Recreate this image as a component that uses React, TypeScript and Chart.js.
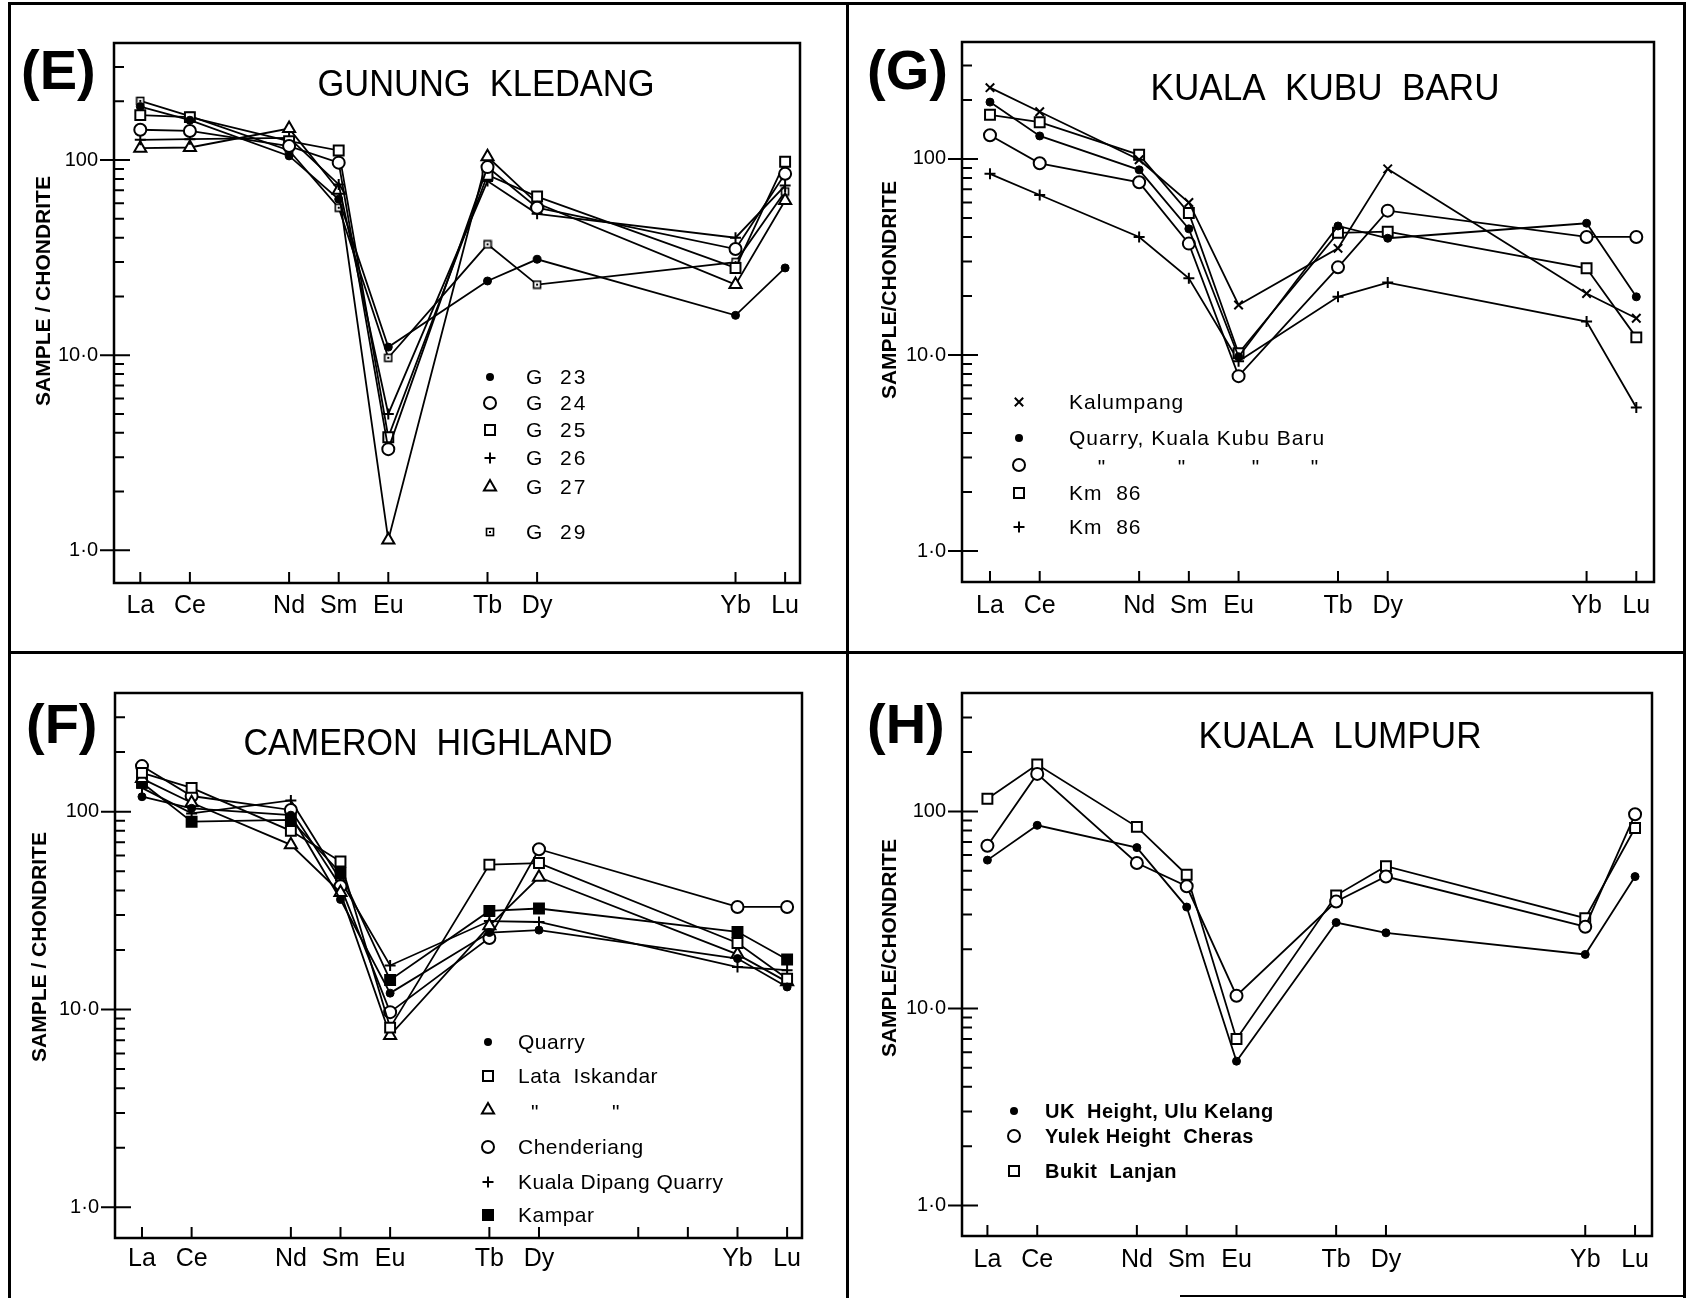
import React, { useEffect, useRef } from 'react';
import { Chart, registerables } from 'chart.js';

Chart.register(...registerables);

// ---------- shared axis data ----------
const ELEMENTS = ['La', 'Ce', 'Nd', 'Sm', 'Eu', 'Tb', 'Dy', 'Yb', 'Lu'];
const ELEMENT_POSITIONS = [0, 1, 3, 4, 5, 7, 8, 12, 13];
const Y_LABELED = [1, 10, 100];
const Y_LABEL_TEXT = ['1·0', '10·0', '100'];
const Y_MINOR = [2, 3, 4, 5, 6, 7, 8, 9, 20, 30, 40, 50, 60, 70, 80, 90, 200, 300];

// ---------- (E) GUNUNG KLEDANG ----------
const E_G23 = [188, 160, 105, 63, 11.0, 24, 31, 16, 28];
const E_G24 = [143, 141, 118, 97, 3.3, 92, 57, 35, 85];
const E_G25 = [170, 166, 125, 112, 3.8, 84, 65, 28, 98];
const E_G26 = [127, 128, 130, 75, 5.0, 78, 53, 40, 74];
const E_G27 = [115, 116, 145, 70, 1.13, 104, 60, 23, 62];
const E_G29 = [201, 168, 112, 57, 9.7, 37, 23, 30, 69];

// ---------- (G) KUALA KUBU BARU ----------
const G_KALUMPANG = [231, 174, 99, 60, 18, 35, 89, 20.6, 15.4];
const G_QUARRY_A = [195, 131, 88, 44, 9.8, 45.5, 39.4, 47, 19.8];
const G_QUARRY_B = [132, 95, 76, 37, 7.8, 28, 54.5, 40, 40];
const G_KM86_A = [168, 154, 105, 53, 10.2, 42, 42.6, 27.7, 12.3];
const G_KM86_B = [84, 65.5, 40, 24.6, 9.3, 19.8, 23.4, 14.8, 5.4];

// ---------- (F) CAMERON HIGHLAND ----------
const F_QUARRY = [119, 104, 96, 36, 12.1, 24.5, 25.2, 18.1, 13];
const F_LATA_A = [157, 132, 80, 56, 8.1, 54, 55, 21.7, 14.3];
const F_LATA_B = [147, 111, 68, 39, 7.4, 26.5, 46.6, 19, 13.8];
const F_CHENDERIANG = [170, 120, 102, 42, 9.7, 23, 64.6, 33, 33];
const F_KUALA_DIPANG = [132, 98, 114, 45, 16.7, 28, 27.7, 16.4, 15.8];
const F_KAMPAR = [140, 89, 91, 49, 14.1, 31.5, 32.4, 24.7, 17.9];

// ---------- (H) KUALA LUMPUR ----------
const H_UK = [56.6, 85, 65.5, 32.7, 5.4, 27.3, 24.2, 18.8, 46.7];
const H_YULEK = [67, 155, 54.7, 41.7, 11.6, 34.9, 46.7, 26, 96.7];
const H_BUKIT = [116, 173, 83.5, 47.7, 7.0, 37.5, 52.7, 28.7, 82.4];

const FONT = '"Liberation Sans", Arial, Helvetica, sans-serif';

type Kind =
  | 'filledCircle'
  | 'openCircle'
  | 'openSquare'
  | 'filledSquare'
  | 'plus'
  | 'cross'
  | 'openTriangle'
  | 'dotSquare';

let dotSquareCanvas: HTMLCanvasElement | null = null;
function getDotSquare(): HTMLCanvasElement {
  if (dotSquareCanvas) return dotSquareCanvas;
  const c = document.createElement('canvas');
  c.width = 10;
  c.height = 10;
  const g = c.getContext('2d')!;
  g.fillStyle = '#fff';
  g.fillRect(1, 1, 8, 8);
  g.strokeStyle = '#000';
  g.lineWidth = 1.6;
  g.strokeRect(1.5, 1.5, 7, 7);
  g.fillStyle = '#000';
  g.fillRect(4, 4, 2, 2);
  dotSquareCanvas = c;
  return c;
}

function pointOpts(kind: Kind): any {
  switch (kind) {
    case 'filledCircle':
      return { pointStyle: 'circle', pointRadius: 4, pointBackgroundColor: '#000', pointBorderColor: '#000', pointBorderWidth: 1 };
    case 'openCircle':
      return { pointStyle: 'circle', pointRadius: 6, pointBackgroundColor: '#fff', pointBorderColor: '#000', pointBorderWidth: 2 };
    case 'openSquare':
      return { pointStyle: 'rect', pointRadius: 7, pointBackgroundColor: '#fff', pointBorderColor: '#000', pointBorderWidth: 2 };
    case 'filledSquare':
      return { pointStyle: 'rect', pointRadius: 7, pointBackgroundColor: '#000', pointBorderColor: '#000', pointBorderWidth: 2 };
    case 'plus':
      return { pointStyle: 'cross', pointRadius: 5.5, pointBackgroundColor: '#000', pointBorderColor: '#000', pointBorderWidth: 2 };
    case 'cross':
      return { pointStyle: 'crossRot', pointRadius: 6, pointBackgroundColor: '#000', pointBorderColor: '#000', pointBorderWidth: 2 };
    case 'openTriangle':
      return { pointStyle: 'triangle', pointRadius: 7, pointBackgroundColor: '#fff', pointBorderColor: '#000', pointBorderWidth: 2 };
    case 'dotSquare':
      return { pointStyle: getDotSquare(), pointRadius: 5, pointBackgroundColor: '#fff', pointBorderColor: '#000', pointBorderWidth: 1 };
  }
}

function drawMarker(ctx: CanvasRenderingContext2D, kind: Kind, x: number, y: number) {
  ctx.save();
  ctx.lineWidth = 2;
  ctx.strokeStyle = '#000';
  ctx.fillStyle = '#000';
  ctx.beginPath();
  switch (kind) {
    case 'filledCircle':
      ctx.arc(x, y, 4, 0, Math.PI * 2);
      ctx.fill();
      break;
    case 'openCircle':
      ctx.arc(x, y, 6, 0, Math.PI * 2);
      ctx.fillStyle = '#fff';
      ctx.fill();
      ctx.stroke();
      break;
    case 'openSquare':
      ctx.rect(x - 5, y - 5, 10, 10);
      ctx.fillStyle = '#fff';
      ctx.fill();
      ctx.stroke();
      break;
    case 'filledSquare':
      ctx.rect(x - 5, y - 5, 10, 10);
      ctx.fill();
      ctx.stroke();
      break;
    case 'plus':
      ctx.moveTo(x - 5.5, y);
      ctx.lineTo(x + 5.5, y);
      ctx.moveTo(x, y - 5.5);
      ctx.lineTo(x, y + 5.5);
      ctx.stroke();
      break;
    case 'cross':
      ctx.moveTo(x - 4.2, y - 4.2);
      ctx.lineTo(x + 4.2, y + 4.2);
      ctx.moveTo(x + 4.2, y - 4.2);
      ctx.lineTo(x - 4.2, y + 4.2);
      ctx.stroke();
      break;
    case 'openTriangle': {
      const r = 7;
      for (let i = 0; i < 3; i++) {
        const a = (i * 2 * Math.PI) / 3;
        const px = x + Math.sin(a) * r;
        const py = y - Math.cos(a) * r;
        if (i === 0) ctx.moveTo(px, py);
        else ctx.lineTo(px, py);
      }
      ctx.closePath();
      ctx.fillStyle = '#fff';
      ctx.fill();
      ctx.stroke();
      break;
    }
    case 'dotSquare': {
      const img = getDotSquare();
      ctx.drawImage(img, x - img.width / 2, y - img.height / 2);
      break;
    }
  }
  ctx.restore();
}

interface SeriesDef {
  name: string;
  kind: Kind;
  values: number[];
}
interface LegendRow {
  kind: Kind;
  text: string;
  y: number;
  dittos?: number[];
}
interface PanelDef {
  id: string;
  canvas: { x: number; y: number; w: number; h: number };
  box: { l: number; t: number; r: number; b: number };
  xMin: number;
  xMax: number;
  yMin: number;
  yMax: number;
  xLabelPad: number;
  label: { text: string; x: number; y: number; size: number };
  title: { text: string; cx: number; y: number; w: number };
  yTitle: { text: string; cx: number; cy: number; w: number };
  legend: { markerX: number; textX: number; font: string; spacing: string; rows: LegendRow[] };
  extraXTicks: number[];
  series: SeriesDef[];
}

const PANELS: PanelDef[] = [
  {
    id: 'E',
    canvas: { x: 11, y: 5, w: 835, h: 646 },
    box: { l: 114, t: 43, r: 800, b: 583 },
    xMin: -0.53,
    xMax: 13.3,
    yMin: 0.68,
    yMax: 398,
    xLabelPad: 8,
    label: { text: '(E)', x: 21, y: 89, size: 56 },
    title: { text: 'GUNUNG  KLEDANG', cx: 486, y: 96, w: 337 },
    yTitle: { text: 'SAMPLE / CHONDRITE', cx: 44, cy: 291, w: 232 },
    legend: {
      markerX: 490,
      textX: 526,
      font: `21px ${FONT}`,
      spacing: '2px',
      rows: [
        { kind: 'filledCircle', text: 'G  23', y: 377 },
        { kind: 'openCircle', text: 'G  24', y: 403 },
        { kind: 'openSquare', text: 'G  25', y: 430 },
        { kind: 'plus', text: 'G  26', y: 458 },
        { kind: 'openTriangle', text: 'G  27', y: 487 },
        { kind: 'dotSquare', text: 'G  29', y: 532 },
      ],
    },
    extraXTicks: [],
    series: [
      { name: 'G 23', kind: 'filledCircle', values: E_G23 },
      { name: 'G 24', kind: 'openCircle', values: E_G24 },
      { name: 'G 25', kind: 'openSquare', values: E_G25 },
      { name: 'G 26', kind: 'plus', values: E_G26 },
      { name: 'G 27', kind: 'openTriangle', values: E_G27 },
      { name: 'G 29', kind: 'dotSquare', values: E_G29 },
    ],
  },
  {
    id: 'G',
    canvas: { x: 849, y: 5, w: 834, h: 646 },
    box: { l: 962, t: 42, r: 1654, b: 582 },
    xMin: -0.563,
    xMax: 13.356,
    yMin: 0.695,
    yMax: 395,
    xLabelPad: 9,
    label: { text: '(G)', x: 867, y: 89, size: 56 },
    title: { text: 'KUALA  KUBU  BARU', cx: 1325, y: 100, w: 349 },
    yTitle: { text: 'SAMPLE/CHONDRITE', cx: 890, cy: 290, w: 234 },
    legend: {
      markerX: 1019,
      textX: 1069,
      font: `21px ${FONT}`,
      spacing: '1px',
      rows: [
        { kind: 'cross', text: 'Kalumpang', y: 402 },
        { kind: 'filledCircle', text: 'Quarry, Kuala Kubu Baru', y: 438 },
        { kind: 'openCircle', text: '', y: 465, dittos: [1102, 1182, 1256, 1315] },
        { kind: 'openSquare', text: 'Km  86', y: 493 },
        { kind: 'plus', text: 'Km  86', y: 527 },
      ],
    },
    extraXTicks: [],
    series: [
      { name: 'Kalumpang', kind: 'cross', values: G_KALUMPANG },
      { name: 'Quarry, Kuala Kubu Baru', kind: 'filledCircle', values: G_QUARRY_A },
      { name: 'Quarry, Kuala Kubu Baru (2)', kind: 'openCircle', values: G_QUARRY_B },
      { name: 'Km 86', kind: 'openSquare', values: G_KM86_A },
      { name: 'Km 86 (2)', kind: 'plus', values: G_KM86_B },
    ],
  },
  {
    id: 'F',
    canvas: { x: 11, y: 654, w: 835, h: 640 },
    box: { l: 115, t: 693, r: 802, b: 1238 },
    xMin: -0.544,
    xMax: 13.3,
    yMin: 0.714,
    yMax: 398,
    xLabelPad: 6,
    label: { text: '(F)', x: 26, y: 743, size: 56 },
    title: { text: 'CAMERON  HIGHLAND', cx: 428, y: 755, w: 369 },
    yTitle: { text: 'SAMPLE / CHONDRITE', cx: 40, cy: 947, w: 234 },
    legend: {
      markerX: 488,
      textX: 518,
      font: `21px ${FONT}`,
      spacing: '0.5px',
      rows: [
        { kind: 'filledCircle', text: 'Quarry', y: 1042 },
        { kind: 'openSquare', text: 'Lata  Iskandar', y: 1076 },
        { kind: 'openTriangle', text: '', y: 1110, dittos: [535, 616] },
        { kind: 'openCircle', text: 'Chenderiang', y: 1147 },
        { kind: 'plus', text: 'Kuala Dipang Quarry', y: 1182 },
        { kind: 'filledSquare', text: 'Kampar', y: 1215 },
      ],
    },
    extraXTicks: [10, 11],
    series: [
      { name: 'Quarry', kind: 'filledCircle', values: F_QUARRY },
      { name: 'Lata Iskandar', kind: 'openSquare', values: F_LATA_A },
      { name: 'Lata Iskandar (2)', kind: 'openTriangle', values: F_LATA_B },
      { name: 'Chenderiang', kind: 'openCircle', values: F_CHENDERIANG },
      { name: 'Kuala Dipang Quarry', kind: 'plus', values: F_KUALA_DIPANG },
      { name: 'Kampar', kind: 'filledSquare', values: F_KAMPAR },
    ],
  },
  {
    id: 'H',
    canvas: { x: 849, y: 654, w: 834, h: 640 },
    box: { l: 962, t: 693, r: 1652, b: 1236 },
    xMin: -0.51,
    xMax: 13.34,
    yMin: 0.72,
    yMax: 399,
    xLabelPad: 9,
    label: { text: '(H)', x: 867, y: 743, size: 56 },
    title: { text: 'KUALA  LUMPUR', cx: 1340, y: 748, w: 283 },
    yTitle: { text: 'SAMPLE/CHONDRITE', cx: 890, cy: 948, w: 232 },
    legend: {
      markerX: 1014,
      textX: 1045,
      font: `bold 20px ${FONT}`,
      spacing: '0.5px',
      rows: [
        { kind: 'filledCircle', text: 'UK  Height, Ulu Kelang', y: 1111 },
        { kind: 'openCircle', text: 'Yulek Height  Cheras', y: 1136 },
        { kind: 'openSquare', text: 'Bukit  Lanjan', y: 1171 },
      ],
    },
    extraXTicks: [],
    series: [
      { name: 'UK Height, Ulu Kelang', kind: 'filledCircle', values: H_UK },
      { name: 'Yulek Height Cheras', kind: 'openCircle', values: H_YULEK },
      { name: 'Bukit Lanjan', kind: 'openSquare', values: H_BUKIT },
    ],
  },
];

function makeDecor(p: PanelDef) {
  return {
    id: 'decor' + p.id,
    afterDraw(chart: any) {
      const ctx: CanvasRenderingContext2D = chart.ctx;
      const a = chart.chartArea;
      const xs = chart.scales.x;
      const ys = chart.scales.y;
      const ox = p.canvas.x;
      const oy = p.canvas.y;
      ctx.save();
      ctx.strokeStyle = '#000';
      ctx.fillStyle = '#000';

      // plot box
      ctx.lineWidth = 2.5;
      ctx.strokeRect(a.left, a.top, a.right - a.left, a.bottom - a.top);

      // y ticks
      ctx.lineWidth = 2;
      ctx.beginPath();
      Y_LABELED.forEach((v) => {
        const y = ys.getPixelForValue(v);
        ctx.moveTo(a.left - 14, y);
        ctx.lineTo(a.left + 16, y);
      });
      Y_MINOR.forEach((v) => {
        if (v < p.yMin || v > p.yMax) return;
        const y = ys.getPixelForValue(v);
        ctx.moveTo(a.left, y);
        ctx.lineTo(a.left + 10, y);
      });
      // x ticks
      [...ELEMENT_POSITIONS, ...p.extraXTicks].forEach((pos) => {
        const x = xs.getPixelForValue(pos);
        ctx.moveTo(x, a.bottom);
        ctx.lineTo(x, a.bottom - 11);
      });
      ctx.stroke();

      // panel label
      ctx.font = `bold ${p.label.size}px ${FONT}`;
      ctx.textAlign = 'left';
      ctx.textBaseline = 'alphabetic';
      ctx.fillText(p.label.text, p.label.x - ox, p.label.y - oy);

      // title
      ctx.font = `36px ${FONT}`;
      ctx.textAlign = 'center';
      ctx.fillText(p.title.text, p.title.cx - ox, p.title.y - oy, p.title.w);

      // y-axis title
      ctx.save();
      ctx.translate(p.yTitle.cx - ox, p.yTitle.cy - oy);
      ctx.rotate(-Math.PI / 2);
      ctx.font = `bold 21px ${FONT}`;
      ctx.textAlign = 'center';
      ctx.textBaseline = 'middle';
      ctx.fillText(p.yTitle.text, 0, 0, p.yTitle.w);
      ctx.restore();

      // legend
      const lg = p.legend;
      lg.rows.forEach((row) => {
        drawMarker(ctx, row.kind, lg.markerX - ox, row.y - oy);
        ctx.font = lg.font;
        (ctx as any).letterSpacing = lg.spacing;
        ctx.textAlign = 'left';
        ctx.textBaseline = 'middle';
        if (row.text) ctx.fillText(row.text, lg.textX - ox, row.y - oy + 1);
        if (row.dittos) {
          ctx.textAlign = 'center';
          row.dittos.forEach((dx) => ctx.fillText('"', dx - ox, row.y - oy + 3));
        }
        (ctx as any).letterSpacing = '0px';
      });
      ctx.restore();
    },
  };
}

function buildConfig(p: PanelDef): any {
  const { canvas: c, box } = p;
  return {
    type: 'line',
    data: {
      datasets: p.series.map((s) => ({
        label: s.name,
        data: s.values.map((v, i) => ({ x: ELEMENT_POSITIONS[i], y: v })),
        borderColor: '#000',
        borderWidth: 1.8,
        fill: false,
        tension: 0,
        ...pointOpts(s.kind),
      })),
    },
    options: {
      animation: false,
      responsive: false,
      devicePixelRatio: 1,
      events: [],
      layout: {
        padding: { left: 0, top: box.t - c.y, right: c.x + c.w - box.r, bottom: 0 },
      },
      plugins: {
        legend: { display: false },
        tooltip: { enabled: false },
        title: { display: false },
      },
      scales: {
        x: {
          type: 'linear',
          min: p.xMin,
          max: p.xMax,
          grid: { display: false, drawTicks: false },
          border: { display: false },
          afterBuildTicks: (s: any) => {
            s.ticks = ELEMENT_POSITIONS.map((v) => ({ value: v }));
          },
          afterFit: (s: any) => {
            s.height = c.y + c.h - box.b;
          },
          ticks: {
            autoSkip: false,
            maxRotation: 0,
            minRotation: 0,
            padding: p.xLabelPad,
            color: '#000',
            font: { family: FONT, size: 25 },
            callback: (v: any) => {
              const i = ELEMENT_POSITIONS.indexOf(Number(v));
              return i >= 0 ? ELEMENTS[i] : '';
            },
          },
        },
        y: {
          type: 'logarithmic',
          min: p.yMin,
          max: p.yMax,
          grid: { display: false, drawTicks: false },
          border: { display: false },
          afterBuildTicks: (s: any) => {
            s.ticks = Y_LABELED.map((v) => ({ value: v }));
          },
          afterFit: (s: any) => {
            s.width = box.l - c.x;
          },
          ticks: {
            autoSkip: false,
            padding: 16,
            color: '#000',
            font: { family: FONT, size: 20 },
            callback: (v: any) => {
              const i = Y_LABELED.indexOf(Number(v));
              return i >= 0 ? Y_LABEL_TEXT[i] : '';
            },
          },
        },
      },
    },
    plugins: [makeDecor(p)],
  };
}

function Panel({ def }: { def: PanelDef }) {
  const ref = useRef<HTMLCanvasElement | null>(null);
  useEffect(() => {
    if (!ref.current) return;
    const chart = new Chart(ref.current, buildConfig(def));
    return () => chart.destroy();
  }, [def]);
  return (
    <canvas
      ref={ref}
      width={def.canvas.w}
      height={def.canvas.h}
      style={{
        position: 'absolute',
        left: def.canvas.x,
        top: def.canvas.y,
        width: def.canvas.w,
        height: def.canvas.h,
      }}
    />
  );
}

const line = (left: number, top: number, width: number, height: number): React.CSSProperties => ({
  position: 'absolute',
  left,
  top,
  width,
  height,
  background: '#000',
});

export default function App() {
  return (
    <div
      style={{
        position: 'absolute',
        left: 0,
        top: 0,
        width: 1689,
        height: 1300,
        background: '#fff',
        overflow: 'hidden',
      }}
    >
      {PANELS.map((p) => (
        <Panel key={p.id} def={p} />
      ))}
      <div style={line(8, 2, 1678, 3)} />
      <div style={line(8, 2, 3, 1296)} />
      <div style={line(846, 2, 3, 1296)} />
      <div style={line(8, 651, 1678, 3)} />
      <div style={line(1683, 2, 3, 1296)} />
      <div style={line(1180, 1295, 506, 2)} />
    </div>
  );
}
